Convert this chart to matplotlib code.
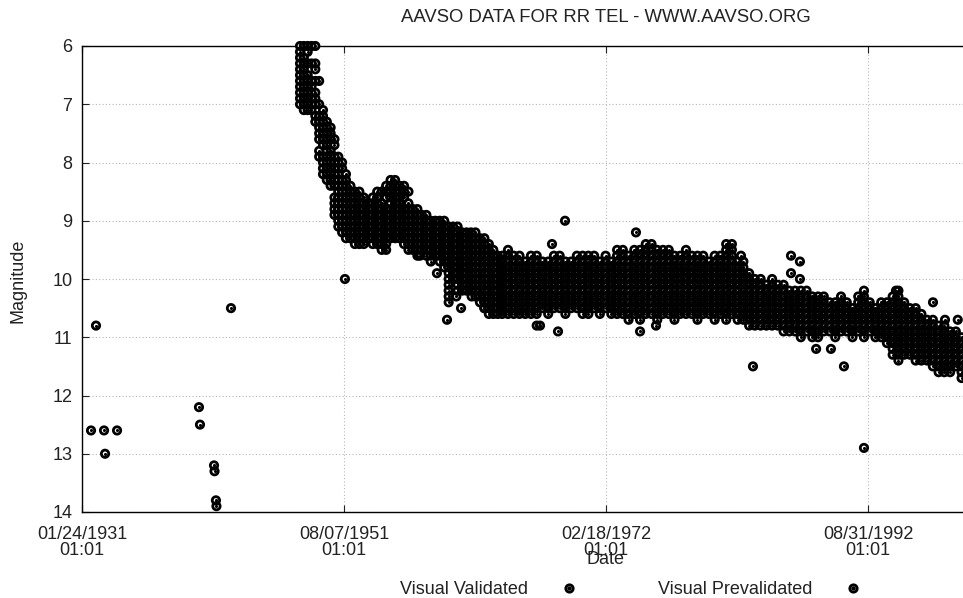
import datetime as dt

import matplotlib
matplotlib.use("Agg")
import matplotlib.pyplot as plt
from matplotlib.lines import Line2D
from matplotlib.legend_handler import HandlerTuple

plt.rcParams["font.family"] = ["Liberation Sans", "DejaVu Sans"]
plt.rcParams["font.size"] = 13

# visual estimates, dates as decimal years, magnitudes per observing season
band_years = [
    1948.15, 1948.45, 1948.75, 1949.05, 1949.35, 1949.65, 1949.95, 1950.25,
    1950.55, 1950.85, 1951.15, 1951.45, 1951.75, 1952.1, 1952.45, 1952.8,
    1953.15, 1953.5, 1953.85, 1954.2, 1954.55, 1954.9, 1955.25, 1955.6,
    1955.95, 1956.3, 1956.65, 1957.0, 1957.35, 1957.7, 1958.05, 1958.4,
    1958.75, 1959.1, 1959.45, 1959.8, 1960.15, 1960.5, 1960.85, 1961.2,
    1961.55, 1961.9, 1962.25, 1962.6, 1962.95, 1963.3, 1963.65,
    1964.0, 1964.45, 1964.9, 1965.35, 1965.8, 1966.25, 1966.7,
    1967.15, 1967.6, 1968.05, 1968.5, 1968.95, 1969.4, 1969.85, 1970.3,
    1970.75, 1971.2, 1971.65, 1972.1, 1972.55, 1973.0, 1973.45, 1973.9,
    1974.35, 1974.8, 1975.25, 1975.7, 1976.15, 1976.6, 1977.05, 1977.5,
    1977.95, 1978.4, 1978.85, 1979.3, 1979.75,
    1980.2, 1980.65, 1981.1, 1981.55, 1982.0, 1982.45, 1982.9,
    1983.35, 1983.8, 1984.25, 1984.7, 1985.15, 1985.6,
    1986.05, 1986.5, 1986.95, 1987.4, 1987.85, 1988.3, 1988.75, 1989.2,
    1989.65, 1990.1, 1990.55, 1991.0, 1991.45,
    1991.9, 1992.35, 1992.8, 1993.25, 1993.7,
    1994.15, 1994.6, 1995.05, 1995.5, 1995.95, 1996.4, 1996.85,
    1997.3, 1997.75, 1998.2, 1998.65, 1999.1, 1999.55, 2000.0,
]

band_mags = [
    [6.0, 6.1, 6.2, 6.3, 6.4, 6.5, 6.6, 6.7, 6.8, 6.9, 7.0],
    [6.0, 6.2, 6.3, 6.4, 6.5, 6.6, 6.7, 6.8, 6.9, 7.0, 7.1],
    [6.0, 6.1, 6.3, 6.5, 6.6, 6.7, 6.8, 6.9, 7.0, 7.1],
    [6.0, 6.3, 6.6, 6.7, 6.8, 6.9, 7.0, 7.1],
    [6.0, 6.3, 6.4, 6.6, 6.8, 6.9, 7.0, 7.2, 7.3],
    [6.6, 7.0, 7.2, 7.3, 7.4, 7.5, 7.6, 7.8, 7.9],
    [7.1, 7.2, 7.3, 7.4, 7.5, 7.6, 7.7, 7.9, 8.0, 8.1, 8.2],
    [7.3, 7.4, 7.5, 7.6, 7.7, 7.8, 7.9, 8.0, 8.1, 8.2, 8.3],
    [7.4, 7.5, 7.6, 7.8, 7.9, 8.0, 8.1, 8.2, 8.3, 8.4],
    [7.6, 7.7, 7.9, 8.0, 8.1, 8.2, 8.3, 8.4, 8.6, 8.7, 8.8, 8.9],
    [7.9, 8.0, 8.1, 8.2, 8.3, 8.4, 8.5, 8.6, 8.7, 8.8, 8.9, 9.0, 9.1],
    [8.0, 8.1, 8.3, 8.4, 8.5, 8.6, 8.7, 8.8, 8.9, 9.0, 9.1, 9.2],
    [8.2, 8.3, 8.4, 8.5, 8.6, 8.7, 8.8, 8.9, 9.0, 9.1, 9.2, 9.3],
    [8.4, 8.5, 8.6, 8.7, 8.8, 8.9, 9.0, 9.1, 9.2, 9.3],
    [8.5, 8.6, 8.7, 8.8, 8.9, 9.0, 9.1, 9.2, 9.3, 9.4],
    [8.5, 8.6, 8.7, 8.8, 8.9, 9.0, 9.1, 9.2, 9.3, 9.4],
    [8.6, 8.7, 8.8, 8.9, 9.0, 9.1, 9.2, 9.3, 9.4],
    [8.7, 8.8, 8.9, 9.0, 9.1, 9.2, 9.3],
    [8.6, 8.7, 8.8, 8.9, 9.0, 9.1, 9.2, 9.3, 9.4],
    [8.5, 8.6, 8.7, 8.8, 8.9, 9.0, 9.1, 9.2, 9.3, 9.4],
    [8.5, 8.7, 8.8, 8.9, 9.0, 9.1, 9.2, 9.3, 9.4, 9.5],
    [8.4, 8.5, 8.6, 8.8, 8.9, 9.0, 9.1, 9.2, 9.3, 9.4, 9.5],
    [8.3, 8.4, 8.5, 8.6, 8.7, 8.8, 8.9, 9.0, 9.1, 9.2, 9.3],
    [8.3, 8.4, 8.5, 8.6, 8.7, 8.8, 8.9, 9.0, 9.1, 9.2, 9.3],
    [8.4, 8.5, 8.6, 8.7, 8.8, 8.9, 9.0, 9.1, 9.2, 9.3],
    [8.4, 8.5, 8.6, 8.8, 8.9, 9.0, 9.1, 9.2, 9.3, 9.4],
    [8.5, 8.7, 8.8, 8.9, 9.0, 9.1, 9.2, 9.3, 9.4, 9.5],
    [8.8, 8.9, 9.0, 9.1, 9.2, 9.3, 9.4, 9.5],
    [8.8, 8.9, 9.0, 9.1, 9.2, 9.3, 9.4, 9.5, 9.6],
    [8.9, 9.0, 9.1, 9.2, 9.3, 9.4, 9.5],
    [8.9, 9.0, 9.1, 9.2, 9.3, 9.4, 9.5, 9.6],
    [9.0, 9.1, 9.2, 9.3, 9.4, 9.5, 9.6, 9.7],
    [9.0, 9.1, 9.2, 9.3, 9.4, 9.5, 9.6],
    [9.0, 9.1, 9.2, 9.3, 9.4, 9.5, 9.6, 9.7],
    [9.0, 9.1, 9.2, 9.3, 9.4, 9.5, 9.6, 9.7, 9.8],
    [9.1, 9.2, 9.3, 9.4, 9.5, 9.6, 9.7, 9.8, 9.9, 10.0, 10.1, 10.2, 10.3, 10.4],
    [9.1, 9.2, 9.3, 9.4, 9.5, 9.6, 9.7, 9.8, 9.9, 10.0],
    [9.1, 9.2, 9.3, 9.4, 9.5, 9.6, 9.7, 9.8, 9.9, 10.0, 10.1, 10.2],
    [9.2, 9.3, 9.4, 9.5, 9.6, 9.7, 9.8, 9.9, 10.0, 10.1, 10.2],
    [9.2, 9.3, 9.4, 9.5, 9.6, 9.7, 9.8, 9.9, 10.0, 10.1, 10.2],
    [9.2, 9.3, 9.4, 9.5, 9.6, 9.7, 9.8, 9.9, 10.0, 10.1, 10.2],
    [9.2, 9.3, 9.4, 9.5, 9.6, 9.7, 9.8, 9.9, 10.0, 10.1, 10.2, 10.3],
    [9.3, 9.4, 9.5, 9.6, 9.7, 9.8, 9.9, 10.0, 10.1, 10.2, 10.3, 10.4],
    [9.3, 9.4, 9.5, 9.6, 9.7, 9.8, 9.9, 10.0, 10.1, 10.2, 10.3, 10.4, 10.5],
    [9.4, 9.5, 9.6, 9.7, 9.8, 9.9, 10.0, 10.1, 10.2, 10.3, 10.4, 10.5, 10.6],
    [9.5, 9.6, 9.7, 9.8, 9.9, 10.0, 10.1, 10.2, 10.3, 10.4, 10.5, 10.6],
    [9.6, 9.7, 9.8, 9.9, 10.0, 10.1, 10.2, 10.3, 10.4, 10.5, 10.6],
    [9.6, 9.7, 9.8, 9.9, 10.0, 10.1, 10.2, 10.3, 10.4, 10.5, 10.6],
    [9.5, 9.6, 9.7, 9.8, 9.9, 10.0, 10.1, 10.2, 10.3, 10.4, 10.5, 10.6],
    [9.6, 9.7, 9.8, 9.9, 10.0, 10.1, 10.2, 10.3, 10.4, 10.5, 10.6],
    [9.6, 9.7, 9.8, 9.9, 10.0, 10.1, 10.2, 10.3, 10.4, 10.5, 10.6],
    [9.7, 9.8, 9.9, 10.0, 10.1, 10.2, 10.3, 10.4, 10.5, 10.6],
    [9.6, 9.7, 9.8, 9.9, 10.0, 10.1, 10.2, 10.3, 10.4, 10.5, 10.6],
    [9.6, 9.7, 9.8, 9.9, 10.0, 10.1, 10.2, 10.3, 10.4, 10.5, 10.6, 10.8],
    [9.7, 9.8, 9.9, 10.0, 10.1, 10.2, 10.3, 10.4, 10.5],
    [9.7, 9.8, 9.9, 10.0, 10.1, 10.2, 10.3, 10.4, 10.5, 10.6],
    [9.6, 9.7, 9.8, 9.9, 10.0, 10.1, 10.2, 10.3, 10.4, 10.5],
    [9.6, 9.7, 9.8, 9.9, 10.0, 10.1, 10.2, 10.3, 10.4, 10.5],
    [9.7, 9.8, 9.9, 10.0, 10.1, 10.2, 10.3, 10.4, 10.5, 10.6],
    [9.7, 9.8, 9.9, 10.0, 10.1, 10.2, 10.3, 10.4, 10.5],
    [9.6, 9.7, 9.8, 9.9, 10.0, 10.1, 10.2, 10.3, 10.4, 10.5],
    [9.6, 9.7, 9.8, 9.9, 10.0, 10.1, 10.2, 10.3, 10.4, 10.5, 10.6],
    [9.6, 9.7, 9.8, 9.9, 10.0, 10.1, 10.2, 10.3, 10.4, 10.5, 10.6],
    [9.6, 9.7, 9.8, 9.9, 10.0, 10.1, 10.2, 10.3, 10.4, 10.5],
    [9.7, 9.8, 9.9, 10.0, 10.1, 10.2, 10.3, 10.4, 10.5, 10.6],
    [9.6, 9.7, 9.8, 9.9, 10.0, 10.1, 10.2, 10.3, 10.4, 10.5],
    [9.7, 9.8, 9.9, 10.0, 10.1, 10.2, 10.3, 10.4, 10.5, 10.6],
    [9.5, 9.6, 9.7, 9.8, 9.9, 10.0, 10.1, 10.2, 10.3, 10.4, 10.5, 10.6],
    [9.5, 9.6, 9.7, 9.8, 9.9, 10.0, 10.1, 10.2, 10.3, 10.4, 10.5, 10.6],
    [9.6, 9.7, 9.8, 9.9, 10.0, 10.1, 10.2, 10.3, 10.4, 10.5, 10.6, 10.7],
    [9.5, 9.6, 9.7, 9.8, 9.9, 10.0, 10.1, 10.2, 10.3, 10.4, 10.5, 10.6],
    [9.5, 9.6, 9.7, 9.8, 9.9, 10.0, 10.1, 10.2, 10.3, 10.4, 10.5, 10.6, 10.7],
    [9.4, 9.5, 9.6, 9.7, 9.8, 9.9, 10.0, 10.1, 10.2, 10.3, 10.4, 10.5, 10.6],
    [9.4, 9.5, 9.6, 9.7, 9.8, 9.9, 10.0, 10.1, 10.2, 10.3, 10.4, 10.5, 10.6],
    [9.5, 9.6, 9.7, 9.8, 9.9, 10.0, 10.1, 10.2, 10.3, 10.4, 10.5, 10.6, 10.7],
    [9.5, 9.6, 9.7, 9.8, 9.9, 10.0, 10.1, 10.2, 10.3, 10.4, 10.5, 10.6],
    [9.5, 9.6, 9.7, 9.8, 9.9, 10.0, 10.1, 10.2, 10.3, 10.4, 10.5, 10.6],
    [9.6, 9.7, 9.8, 9.9, 10.0, 10.1, 10.2, 10.3, 10.4, 10.5, 10.6, 10.7],
    [9.6, 9.7, 9.8, 9.9, 10.0, 10.1, 10.2, 10.3, 10.4, 10.5, 10.6],
    [9.5, 9.6, 9.7, 9.8, 9.9, 10.0, 10.1, 10.2, 10.3, 10.4, 10.5, 10.6],
    [9.6, 9.7, 9.8, 9.9, 10.0, 10.1, 10.2, 10.3, 10.4, 10.5, 10.6],
    [9.6, 9.7, 9.8, 9.9, 10.0, 10.1, 10.2, 10.3, 10.4, 10.5, 10.6, 10.7],
    [9.6, 9.7, 9.8, 9.9, 10.0, 10.1, 10.2, 10.3, 10.4, 10.5, 10.6],
    [9.7, 9.8, 9.9, 10.0, 10.1, 10.2, 10.3, 10.4, 10.5, 10.6],
    [9.6, 9.7, 9.8, 9.9, 10.0, 10.1, 10.2, 10.3, 10.4, 10.5, 10.6, 10.7],
    [9.6, 9.7, 9.8, 9.9, 10.0, 10.1, 10.2, 10.3, 10.4, 10.5, 10.6],
    [9.4, 9.5, 9.6, 9.7, 9.8, 9.9, 10.0, 10.1, 10.2, 10.3, 10.4, 10.5, 10.6, 10.7],
    [9.4, 9.5, 9.6, 9.7, 9.8, 9.9, 10.0, 10.1, 10.2, 10.3, 10.4, 10.5, 10.6],
    [9.7, 9.8, 9.9, 10.0, 10.1, 10.2, 10.3, 10.4, 10.5, 10.6, 10.7],
    [9.7, 9.8, 9.9, 10.0, 10.1, 10.2, 10.3, 10.4, 10.5, 10.6, 10.7],
    [9.9, 10.0, 10.1, 10.2, 10.3, 10.4, 10.5, 10.6, 10.7, 10.8],
    [10.0, 10.1, 10.2, 10.3, 10.4, 10.5, 10.6, 10.7, 10.8],
    [10.0, 10.1, 10.2, 10.3, 10.4, 10.5, 10.6, 10.7, 10.8],
    [10.1, 10.2, 10.3, 10.4, 10.5, 10.6, 10.7, 10.8],
    [10.0, 10.1, 10.2, 10.3, 10.4, 10.5, 10.6, 10.7, 10.8],
    [10.1, 10.2, 10.3, 10.4, 10.5, 10.6, 10.7, 10.8],
    [10.1, 10.2, 10.3, 10.4, 10.5, 10.6, 10.7, 10.8, 10.9],
    [10.2, 10.3, 10.4, 10.5, 10.6, 10.7, 10.8, 10.9],
    [10.2, 10.3, 10.4, 10.5, 10.6, 10.7, 10.8, 10.9],
    [10.2, 10.3, 10.4, 10.5, 10.6, 10.7, 10.8, 10.9, 11.0],
    [10.2, 10.3, 10.4, 10.5, 10.6, 10.7, 10.8, 10.9],
    [10.3, 10.4, 10.5, 10.6, 10.7, 10.8, 10.9, 11.0],
    [10.3, 10.4, 10.5, 10.6, 10.7, 10.8, 10.9, 11.0],
    [10.3, 10.4, 10.5, 10.6, 10.7, 10.8, 10.9],
    [10.4, 10.5, 10.6, 10.7, 10.8, 10.9],
    [10.4, 10.5, 10.6, 10.7, 10.8, 10.9, 11.0],
    [10.3, 10.4, 10.5, 10.6, 10.7, 10.8, 10.9],
    [10.4, 10.5, 10.6, 10.7, 10.8, 10.9],
    [10.5, 10.6, 10.7, 10.8, 10.9, 11.0],
    [10.3, 10.4, 10.5, 10.6, 10.7, 10.8, 10.9],
    [10.2, 10.3, 10.4, 10.5, 10.6, 10.7, 10.8, 10.9, 11.0],
    [10.4, 10.5, 10.6, 10.7, 10.8, 10.9],
    [10.5, 10.6, 10.7, 10.8, 10.9, 11.0],
    [10.4, 10.5, 10.6, 10.7, 10.8, 10.9, 11.0],
    [10.4, 10.5, 10.6, 10.7, 10.8, 10.9, 11.0, 11.1],
    [10.3, 10.4, 10.5, 10.6, 10.7, 10.8, 10.9, 11.0, 11.1, 11.2, 11.3],
    [10.2, 10.3, 10.4, 10.5, 10.6, 10.7, 10.8, 10.9, 11.0, 11.1, 11.2, 11.3, 11.4],
    [10.4, 10.5, 10.6, 10.7, 10.8, 10.9, 11.0, 11.1, 11.2, 11.3],
    [10.5, 10.6, 10.7, 10.8, 10.9, 11.0, 11.1, 11.2, 11.3],
    [10.5, 10.6, 10.7, 10.8, 10.9, 11.0, 11.1, 11.2, 11.3, 11.4],
    [10.6, 10.7, 10.8, 10.9, 11.0, 11.1, 11.2, 11.3, 11.4],
    [10.7, 10.8, 10.9, 11.0, 11.1, 11.2, 11.3, 11.4],
    [10.7, 10.8, 10.9, 11.0, 11.1, 11.2, 11.3, 11.4, 11.5],
    [10.8, 10.9, 11.0, 11.1, 11.2, 11.3, 11.4, 11.5, 11.6],
    [10.8, 10.9, 11.0, 11.1, 11.2, 11.3, 11.4, 11.5, 11.6],
    [10.9, 11.0, 11.1, 11.2, 11.3, 11.4, 11.5, 11.6],
    [10.9, 11.0, 11.1, 11.2, 11.3, 11.4, 11.5],
    [11.0, 11.1, 11.2, 11.3, 11.4, 11.5, 11.6, 11.7],
]

# isolated estimates away from the main band
single_years = [
    1931.77, 1932.16, 1932.79, 1932.87, 1933.81, 1940.23, 1940.31,
    1941.41, 1941.45, 1941.56, 1941.60, 1942.74, 1951.67, 1957.55,
    1958.88, 1959.67, 1960.40, 1960.77, 1961.60, 1962.60, 1966.96,
    1967.90, 1968.37, 1968.92, 1974.48, 1974.80, 1976.05, 1982.71,
    1983.65, 1986.63, 1986.63, 1987.33, 1987.33, 1988.60, 1989.76,
    1990.78, 1992.35, 1994.86, 1997.76, 1998.70, 1999.70,
]
single_mags = [
    12.6, 10.8, 12.6, 13.0, 12.6, 12.2, 12.5,
    13.2, 13.3, 13.8, 13.9, 10.5, 10.0, 9.6,
    9.9, 10.7, 10.3, 10.5, 10.3, 10.5, 10.8,
    9.4, 10.9, 9.0, 9.2, 10.9, 10.8, 9.6,
    11.5, 9.6, 9.9, 9.7, 10.0, 11.2, 11.2,
    11.5, 12.9, 10.2, 10.4, 10.7, 10.7,
]

tick_dates = [dt.datetime(1931, 1, 24, 1, 1), dt.datetime(1951, 8, 7, 1, 1),
              dt.datetime(1972, 2, 18, 1, 1), dt.datetime(1992, 8, 31, 1, 1)]
mag_ticks = [6, 7, 8, 9, 10, 11, 12, 13, 14]


def decimal_year(d):
    start = dt.datetime(d.year, 1, 1)
    end = dt.datetime(d.year + 1, 1, 1)
    return d.year + (d - start).total_seconds() / (end - start).total_seconds()


xs = []
ys = []
for yr, mags in zip(band_years, band_mags):
    xs.extend([yr] * len(mags))
    ys.extend(mags)
xs.extend(single_years)
ys.extend(single_mags)

fig = plt.figure(figsize=(9.63, 5.98), dpi=100)
ax = fig.add_axes([82 / 963, 1 - 512 / 598, 881 / 963, 466 / 598])

# white discs first, then all the rings and centres on top
ax.scatter(xs, ys, s=28, color="white", linewidths=0, clip_on=False, zorder=3)
ax.scatter(xs, ys, s=28, facecolors="none", edgecolors="black",
           linewidths=2.0, clip_on=False, zorder=4)
ax.scatter(xs, ys, s=5, color="black", linewidths=0, clip_on=False, zorder=5)

tick_pos = [decimal_year(d) for d in tick_dates]
ax.set_xlim(tick_pos[0], tick_pos[0] + 881 / 262 * (tick_pos[1] - tick_pos[0]))
ax.set_ylim(14, 6)
ax.set_xticks(tick_pos)
ax.set_xticklabels([d.strftime("%m/%d/%Y\n%H:%M") for d in tick_dates],
                   linespacing=0.95)
ax.set_yticks(mag_ticks)

ax.grid(True, color="#b8b8b8", linestyle=(0, (1, 2)), linewidth=0.8)
ax.set_axisbelow(True)
ax.tick_params(axis="x", direction="in", top=True, length=5, pad=10,
               colors="#222222")
ax.tick_params(axis="y", direction="in", length=5, pad=7, colors="#222222")
ax.spines["right"].set_visible(False)
for side in ["top", "left", "bottom"]:
    ax.spines[side].set_linewidth(1.0)

fig.text(606 / 963, 1 - 18 / 598, "AAVSO DATA FOR RR TEL - WWW.AAVSO.ORG",
         ha="center", va="center", color="#222222", fontsize=13.3)
fig.text(606 / 963, 1 - 559 / 598, "Date", ha="center", va="center",
         color="#222222")
fig.text(18 / 963, 1 - 281 / 598, "Magnitude", ha="center", va="center",
         rotation=90, color="#222222")

ring = Line2D([], [], marker="o", ls="none", mfc="white", mec="black",
              mew=2.0, ms=5.3)
dot = Line2D([], [], marker="o", ls="none", color="black", ms=2.2)
fig.legend([(ring, dot), (ring, dot)], ["Visual Validated", "Visual Prevalidated"],
           handler_map={tuple: HandlerTuple(ndivide=1)},
           loc="center", bbox_to_anchor=(631 / 963, 1 - 590 / 598), ncol=2,
           markerfirst=False, frameon=False, handlelength=1.0,
           handletextpad=1.8, columnspacing=4.4, borderpad=0,
           labelcolor="#222222")

fig.savefig("out.png", dpi=100)
